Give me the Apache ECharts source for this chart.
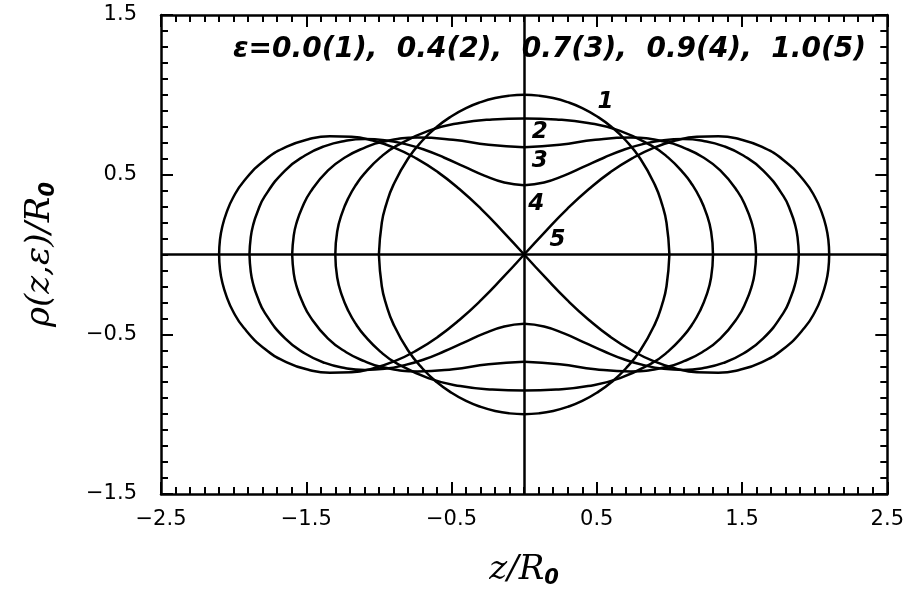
<!DOCTYPE html>
<html>
<head>
<meta charset="utf-8">
<script src="https://cdn.jsdelivr.net/npm/echarts@6/dist/echarts.min.js"></script>
<style>
  html, body { margin: 0; padding: 0; background: #fff; }
  #ovalChart { width: 907px; height: 594px; }
</style>
</head>
<body>
<div id="ovalChart"></div>
<script>
// one quarter of every shape (z >= 0, rho >= 0)
const z1 = [0, 0.1, 0.2, 0.3, 0.4, 0.5, 0.6, 0.7, 0.8, 0.9, 0.95, 0.98, 1.0]
const rho1 = [1.0, 0.995, 0.98, 0.954, 0.917, 0.866, 0.8, 0.714, 0.6, 0.436, 0.312, 0.199, 0]
const z2 = [0, 0.22, 0.44, 0.66, 0.88, 0.99, 1.10, 1.155, 1.21, 1.254, 1.287, 1.30]
const rho2 = [0.852, 0.846, 0.824, 0.774, 0.680, 0.608, 0.507, 0.440, 0.354, 0.258, 0.144, 0]
const z3 = [0, 0.245, 0.49, 0.735, 0.98, 1.10, 1.225, 1.35, 1.47, 1.53, 1.568, 1.586, 1.597]
const rho3 = [0.671, 0.687, 0.718, 0.732, 0.705, 0.668, 0.612, 0.527, 0.394, 0.290, 0.195, 0.120, 0]
const z4 = [0, 0.137, 0.274, 0.412, 0.549, 0.686, 0.823, 0.96, 1.098, 1.235, 1.372, 1.509, 1.646, 1.784, 1.838, 1.866, 1.882, 1.891]
const rho4 = [0.434, 0.451, 0.494, 0.550, 0.606, 0.656, 0.693, 0.716, 0.723, 0.711, 0.679, 0.620, 0.526, 0.367, 0.262, 0.183, 0.109, 0]
const z5 = [0, 0.149, 0.297, 0.446, 0.594, 0.743, 0.891, 1.04, 1.188, 1.337, 1.485, 1.634, 1.782, 1.93, 2.005, 2.049, 2.079, 2.094, 2.10]
const rho5 = [0, 0.147, 0.286, 0.410, 0.516, 0.602, 0.668, 0.713, 0.738, 0.741, 0.722, 0.675, 0.594, 0.459, 0.354, 0.262, 0.171, 0.093, 0]

// curve numbers placed next to the shapes
const labelText = ['1', '2', '3', '4', '5']
const labelZ = [0.56, 0.107, 0.107, 0.084, 0.23]
const labelRho = [0.955, 0.768, 0.583, 0.314, 0.088]

const titleText = 'ε=0.0(1),  0.4(2),  0.7(3),  0.9(4),  1.0(5)'

const quarters = [[z1, rho1], [z2, rho2], [z3, rho3], [z4, rho4], [z5, rho5]]

// each shape is symmetric, so draw 4 arms starting from z = 0
function arms(z, rho) {
  let out = []
  for (let sz of [1, -1]) {
    for (let sr of [1, -1]) {
      out.push({
        type: 'line',
        data: z.map((v, i) => [sz * v, sr * rho[i]]),
        showSymbol: false,
        smooth: 0.5,
        silent: true,
        lineStyle: { color: '#000', width: 2.5 }
      })
    }
  }
  return out
}

let allSeries = []
quarters.forEach(q => { allSeries = allSeries.concat(arms(q[0], q[1])) })

// the two zero lines
allSeries[0].markLine = {
  silent: true,
  symbol: 'none',
  label: { show: false },
  lineStyle: { color: '#000', width: 2.5, type: 'solid' },
  data: [{ yAxis: 0 }, { xAxis: 0 }]
}

allSeries.push({
  type: 'scatter',
  symbolSize: 0,
  silent: true,
  itemStyle: { opacity: 1 },
  data: labelText.map((t, i) => [labelZ[i], labelRho[i], t]),
  label: {
    show: true,
    position: 'inside',
    formatter: p => p.value[2],
    color: '#000',
    fontFamily: 'DejaVu Sans',
    fontStyle: 'italic',
    fontWeight: 'bold',
    fontSize: 23
  }
})

const minus = v => String(v).replace('-', '\u2212')

const tickFont = { color: '#000', fontFamily: 'DejaVu Sans', fontSize: 21 }
const frameLine = { show: true, onZero: false, lineStyle: { color: '#000', width: 2.5 } }

function xAxisDef(pos, showLabel) {
  return {
    type: 'value', position: pos, min: -2.5, max: 2.5, interval: 1,
    axisLine: frameLine,
    axisTick: { show: true, inside: true, length: 12, lineStyle: { color: '#000', width: 2 } },
    minorTick: { show: true, splitNumber: 10, length: 7, lineStyle: { color: '#000', width: 2 } },
    splitLine: { show: false },
    axisLabel: Object.assign({ show: showLabel, margin: 15, formatter: minus }, tickFont)
  }
}
function yAxisDef(pos, showLabel) {
  return {
    type: 'value', position: pos, min: -1.5, max: 1.5, interval: 1,
    axisLine: frameLine,
    axisTick: { show: true, inside: true, length: 12, lineStyle: { color: '#000', width: 2 } },
    minorTick: { show: true, splitNumber: 10, length: 7, lineStyle: { color: '#000', width: 2 } },
    splitLine: { show: false },
    axisLabel: Object.assign({ show: showLabel, margin: 24, formatter: minus }, tickFont)
  }
}

const nameRich = {
  i: { fontFamily: 'DejaVu Serif', fontStyle: 'italic', fontSize: 34, color: '#000' },
  s: { fontFamily: 'DejaVu Sans', fontStyle: 'italic', fontWeight: 'bold', fontSize: 21, color: '#000', padding: [16, 0, 0, 0] }
}

let xBottom = xAxisDef('bottom', true)
xBottom.name = '{i|z/R}{s|0}'
xBottom.nameLocation = 'middle'
xBottom.nameGap = 58
xBottom.nameTextStyle = { rich: nameRich }
let xTop = xAxisDef('top', false)

let yLeft = yAxisDef('left', true)
yLeft.name = '{i|ρ(z,ε)/R}{s|0}'
yLeft.nameLocation = 'middle'
yLeft.nameGap = 102
yLeft.nameRotate = 90
yLeft.nameTextStyle = { rich: nameRich }
let yRight = yAxisDef('right', false)

let myChart = echarts.init(document.getElementById('ovalChart'), null, { renderer: 'canvas' })
myChart.setOption({
  animation: false,
  backgroundColor: '#fff',
  title: {
    text: titleText,
    left: 228,
    top: 31,
    textStyle: {
      color: '#000',
      fontFamily: 'DejaVu Sans',
      fontStyle: 'italic',
      fontWeight: 'bold',
      fontSize: 28
    }
  },
  grid: { left: 161, right: 19, top: 15, bottom: 94 },
  xAxis: [xBottom, xTop],
  yAxis: [yLeft, yRight],
  series: allSeries
})
</script>
</body>
</html>
